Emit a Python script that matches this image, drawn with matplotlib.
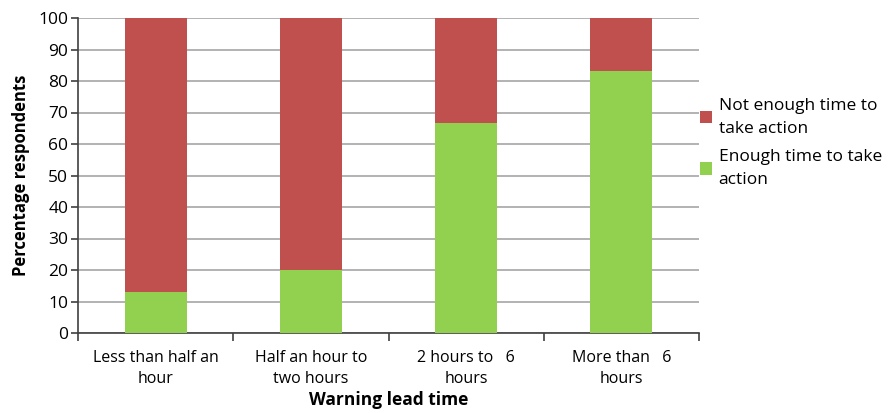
import numpy as np
import matplotlib.pyplot as plt

plt.rcParams['font.family'] = ['Open Sans', 'DejaVu Sans']

categories = ["Less than half an\nhour", "Half an hour to\ntwo hours",
              "2 hours to   6\nhours", "More than   6\nhours"]
enough = [13.0, 20.0, 66.7, 83.3]
not_enough = [87.0, 80.0, 33.3, 16.7]

fig = plt.figure(figsize=(8.9, 4.13), dpi=100)
ax = fig.add_axes([78 / 890, 80 / 413, 621 / 890, 315 / 413])

x = np.arange(len(categories))
b1 = ax.bar(x, enough, width=0.4, color='#92D050', zorder=3)
b2 = ax.bar(x, not_enough, bottom=enough, width=0.4, color='#C0504D', zorder=3)

ax.set_xlim(-0.5, len(categories) - 0.5)
ax.set_ylim(0, 100)
ax.set_yticks(range(0, 101, 10))
ax.yaxis.grid(True, color='#a6a6a6', linewidth=1.2, zorder=0)

ax.set_xticks(x)
ax.set_xticklabels(categories, fontsize=11.5, linespacing=1.45)
ax.tick_params(axis='x', length=0, pad=12)
ax.set_xticks(np.arange(-0.5, len(categories)), minor=True)
ax.tick_params(axis='x', which='minor', length=6, color='#404040', width=1.2)
ax.tick_params(axis='y', labelsize=12.5, length=5, color='#404040', width=1.2, pad=2)

for s in ['top', 'right']:
    ax.spines[s].set_visible(False)
for s in ['left', 'bottom']:
    ax.spines[s].set_color('#404040')
    ax.spines[s].set_linewidth(1.2)

ax.set_ylabel('Percentage respondents', fontsize=12, fontweight='bold', labelpad=6)
ax.set_xlabel('Warning lead time', fontsize=12.5, fontweight='bold', labelpad=3)

fig.legend([b2, b1], ["Not enough time to\ntake action", "Enough time to take\naction"],
           loc='upper left', bbox_to_anchor=(684 / 890, 1 - 82 / 413),
           frameon=False, handlelength=0.7, handleheight=0.7,
           handletextpad=0.4, labelspacing=0.7, prop={'size': 12.5})
for t in fig.legends[0].get_texts():
    t.set_linespacing(1.6)

fig.savefig('out.png', dpi=100)
